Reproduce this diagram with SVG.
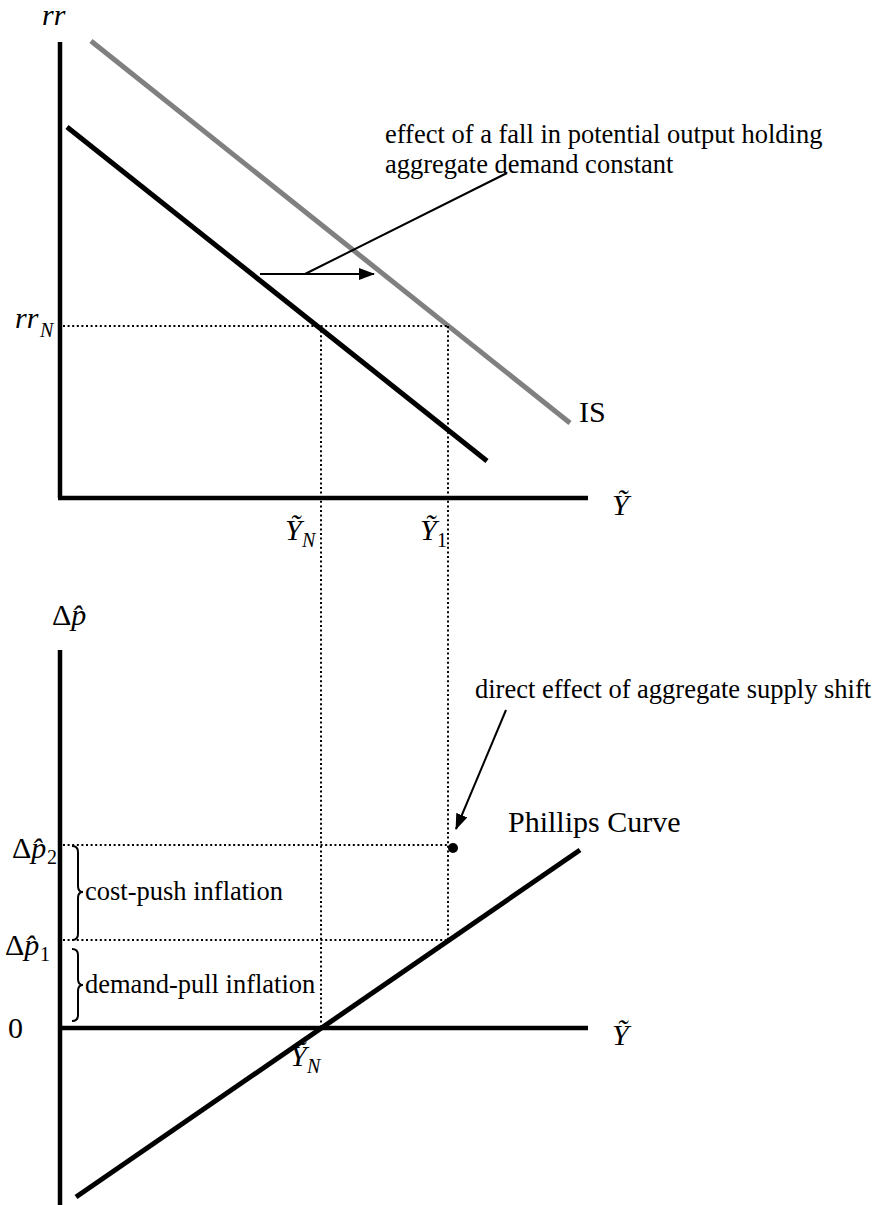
<svg xmlns="http://www.w3.org/2000/svg" width="885" height="1205" viewBox="0 0 885 1205">
<style>
.ax{stroke:#000;stroke-width:4.5;fill:none}
.crv{stroke:#000;stroke-width:5;fill:none}
.gry{stroke:#808080;stroke-width:5;fill:none}
.dot{stroke:#000;stroke-width:2;stroke-dasharray:2 2.6;fill:none}
.thin{stroke:#000;stroke-width:2;fill:none}
.t{font-family:"Liberation Serif","Times New Roman",serif;font-size:26.5px;fill:#000}
.m{font-family:"Liberation Serif","DejaVu Serif","Times New Roman",serif;font-size:30px;fill:#000}
.i{font-style:italic}
.s{font-size:20px}
</style>
<defs>
<marker id="ah" markerWidth="16" markerHeight="12" refX="15" refY="6" orient="auto" markerUnits="userSpaceOnUse">
<path d="M0,0 L16,6 L0,12 Z" fill="#000"/>
</marker>
</defs>
<g id="top-axes">
<line class="ax" x1="60" y1="42" x2="60" y2="498"/>
<line class="ax" x1="58" y1="498" x2="588" y2="498"/>
<text class="m i" x="42" y="25">rr</text>
<text class="m i" x="15" y="328">rr</text><text class="m i s" x="40" y="337">N</text>
<text class="m i" x="612" y="515">Ỹ</text>
</g>
<g id="is-curves">
<line class="gry" x1="91" y1="41" x2="570" y2="423"/>
<line class="crv" x1="67" y1="127" x2="487" y2="461"/>
<text class="m" x="579" y="422">IS</text>
</g>
<g id="top-guides">
<line class="dot" x1="63" y1="326" x2="448" y2="326"/>
</g>
<g id="labels-y">
<text class="m i" x="285" y="540">Ỹ</text><text class="m i s" x="302" y="547">N</text>
<text class="m i" x="420" y="540">Ỹ</text><text class="m s" x="437" y="547">1</text>
</g>
<g id="annotation-top">
<text class="t" x="385" y="143">effect of a fall in potential output holding</text>
<text class="t" x="385" y="173">aggregate demand constant</text>
</g>
<g id="bottom-axes">
<line class="ax" x1="60" y1="650" x2="60" y2="1205"/>
<line class="ax" x1="58" y1="1028" x2="588" y2="1028"/>
<text class="m" x="52" y="625">Δ<tspan font-style="italic">p̂</tspan></text>
<text class="m" x="8" y="1038">0</text>
<text class="m i" x="612" y="1045">Ỹ</text>
<text class="m i" x="290" y="1066">Ỹ</text><text class="m i s" x="307" y="1073">N</text>
</g>
<g id="phillips">
<line class="crv" x1="76" y1="1197" x2="580" y2="850"/>
<text class="m" x="508" y="832">Phillips Curve</text>
</g>
<g id="bottom-guides">
<line class="dot" x1="63" y1="845" x2="448" y2="845"/>
<line class="dot" x1="63" y1="940" x2="448" y2="940"/>
<text class="m" x="12" y="858">Δ<tspan font-style="italic">p̂</tspan></text><text class="m s" x="47" y="864">2</text>
<text class="m" x="5" y="955">Δ<tspan font-style="italic">p̂</tspan></text><text class="m s" x="40" y="961">1</text>
</g>
<g id="braces">
<path class="thin" d="M72,846 Q78,846 78,852 L78,886 Q78,892 83,892 Q78,892 78,898 L78,934 Q78,940 72,940"/>
<path class="thin" d="M72,949 Q78,949 78,955 L78,979 Q78,985 83,985 Q78,985 78,991 L78,1015 Q78,1021 72,1021"/>
<text class="t" x="85" y="900">cost-push inflation</text>
<text class="t" x="85" y="993">demand-pull inflation</text>
</g>
<g id="supply-point">
<circle cx="453" cy="848" r="5" fill="#000"/>
<text class="t" x="475" y="698">direct effect of aggregate supply shift</text>
</g>
<g id="connectors">
<line class="dot" x1="321" y1="326" x2="321" y2="1028"/>
<line class="dot" x1="448" y1="326" x2="448" y2="940"/>
<line class="thin" x1="260" y1="274" x2="374" y2="274" marker-end="url(#ah)"/>
<line class="thin" x1="305" y1="274" x2="507" y2="173"/>
<line class="thin" x1="506" y1="710" x2="456" y2="829" marker-end="url(#ah)"/>
</g>
</svg>
